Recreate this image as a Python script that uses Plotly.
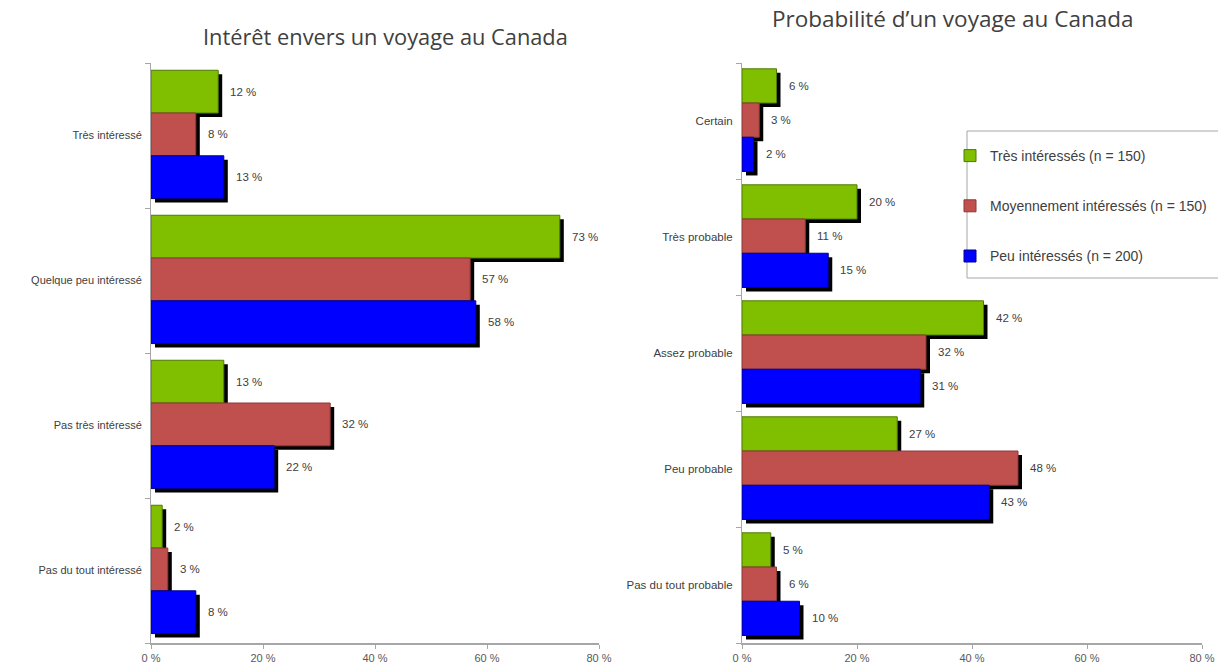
import plotly.graph_objects as go

# --- data ---------------------------------------------------------------
series_names = ["Très intéressés (n = 150)",
                "Moyennement intéressés (n = 150)",
                "Peu intéressés (n = 200)"]
series_colors = ["#7FBF00", "#C0504D", "#0000FF"]
series_edges = ["#4F7A00", "#8C3836", "#00008C"]

interest_categories = ["Très intéressé", "Quelque peu intéressé",
                       "Pas très intéressé", "Pas du tout intéressé"]
interest_tres = [12, 73, 13, 2]
interest_moyen = [8, 57, 32, 3]
interest_peu = [13, 58, 22, 8]

proba_categories = ["Certain", "Très probable", "Assez probable",
                    "Peu probable", "Pas du tout probable"]
proba_tres = [6, 20, 42, 27, 5]
proba_moyen = [3, 11, 32, 48, 6]
proba_peu = [2, 15, 31, 43, 10]

x_tickvals = [0, 20, 40, 60, 80]
x_ticktext = ["0 %", "20 %", "40 %", "60 %", "80 %"]

# --- layout geometry (pixels in a 1218x666 page) ----------------------------
W, H = 1218, 666
LEFT_X = (151, 599)
RIGHT_X = (742, 1202)
PLOT_Y = (63, 643)

BAR_W = 0.295           # bar thickness in category units
FIRST_OFF = -0.45       # offset of the first bar in each group
SHADOW_PX = 4           # drop-shadow offset in pixels

TEXT = "#404040"
AXIS = "#A6A6A6"
SANS = "Liberation Sans, Arial"


def px_to_paper_x(px):
    return px / W


def px_to_paper_y(py):
    return (H - py) / H


fig = go.Figure()
annotations = []


def add_panel(categories, values_list, xa, ya, x_px, show_legend, cat_size):
    n = len(categories)
    span_px = x_px[1] - x_px[0]
    dx = SHADOW_PX * 80 / span_px
    dy = SHADOW_PX * n / (PLOT_Y[1] - PLOT_Y[0])
    xref = "x" if xa == "xaxis" else "x" + xa[5:]
    yref = "y" if ya == "yaxis" else "y" + ya[5:]

    # shadows first so they sit behind the coloured bars
    for k, vals in enumerate(values_list):
        off = FIRST_OFF + k * BAR_W
        fig.add_trace(go.Bar(
            x=vals, y=[i + off + BAR_W / 2 + dy for i in range(n)],
            base=[dx] * n, width=BAR_W, orientation="h",
            marker=dict(color="#000000", line=dict(width=0)),
            showlegend=False, hoverinfo="skip",
            xaxis=xref, yaxis=yref))
    for k, vals in enumerate(values_list):
        off = FIRST_OFF + k * BAR_W
        ys = [i + off + BAR_W / 2 for i in range(n)]
        fig.add_trace(go.Bar(
            x=vals, y=ys, width=BAR_W, orientation="h",
            name=series_names[k], legendgroup=f"g{k}",
            marker=dict(color=series_colors[k],
                        line=dict(color=series_edges[k], width=1)),
            showlegend=show_legend,
            xaxis=xref, yaxis=yref))
        for v, yv in zip(vals, ys):
            annotations.append(dict(
                x=v, y=yv, xref=xref, yref=yref, text=f"{v} %",
                showarrow=False, xanchor="left", yanchor="middle",
                xshift=10, font=dict(family=SANS, size=11.5, color=TEXT)))

    fig.update_layout({
        xa: dict(domain=[px_to_paper_x(x_px[0]), px_to_paper_x(x_px[1])],
                 range=[0, 80], tickvals=x_tickvals, ticktext=x_ticktext,
                 showgrid=False, zeroline=False, showline=True,
                 linecolor=AXIS, linewidth=1.5, ticks="outside",
                 ticklen=4, tickcolor=AXIS, anchor=yref, automargin=False,
                 ticklabeloverflow="allow",
                 tickfont=dict(family=SANS, size=11, color="#595959")),
        ya: dict(domain=[px_to_paper_y(PLOT_Y[1]), px_to_paper_y(PLOT_Y[0])],
                 range=[n - 0.5, -0.5], tickvals=list(range(n)),
                 ticktext=categories, ticks="", showgrid=False,
                 zeroline=False, showline=True, linecolor=AXIS,
                 linewidth=1, anchor=xref, ticklabelstandoff=6,
                 automargin=False,
                 minor=dict(tickmode="array",
                            tickvals=[i - 0.5 for i in range(n + 1)],
                            ticks="outside", ticklen=5, tickcolor=AXIS,
                            showgrid=False),
                 tickfont=dict(family=SANS, size=cat_size, color=TEXT)),
    })


add_panel(interest_categories, [interest_tres, interest_moyen, interest_peu],
          "xaxis", "yaxis", LEFT_X, False, 11)
add_panel(proba_categories, [proba_tres, proba_moyen, proba_peu],
          "xaxis2", "yaxis2", RIGHT_X, True, 11.5)

# panel titles
annotations.append(dict(
    x=px_to_paper_x(385), y=px_to_paper_y(36), xref="paper", yref="paper",
    text="Intérêt envers un voyage au Canada", showarrow=False,
    xanchor="center", yanchor="middle",
    font=dict(family="Open Sans", size=21.8, color=TEXT)))
annotations.append(dict(
    x=px_to_paper_x(953), y=px_to_paper_y(19), xref="paper", yref="paper",
    text="Probabilité d’un voyage au Canada", showarrow=False,
    xanchor="center", yanchor="middle",
    font=dict(family="Open Sans", size=22.5, color=TEXT)))

# legend frame (the legend itself is drawn borderless inside it)
shapes = [dict(type="rect", xref="paper", yref="paper",
               x0=px_to_paper_x(967), x1=px_to_paper_x(1230),
               y0=px_to_paper_y(278), y1=px_to_paper_y(131),
               line=dict(color="#A6A6A6", width=1), fillcolor="white",
               layer="below")]

fig.update_layout(
    width=W, height=H,
    margin=dict(l=0, r=0, t=0, b=0),
    paper_bgcolor="white", plot_bgcolor="rgba(0,0,0,0)",
    barmode="overlay",
    annotations=annotations,
    shapes=shapes,
    showlegend=True,
    legend=dict(x=px_to_paper_x(950), y=px_to_paper_y(140),
                xanchor="left", yanchor="top",
                borderwidth=0, bgcolor="rgba(0,0,0,0)",
                traceorder="grouped",
                tracegroupgap=29, itemwidth=30,
                font=dict(family=SANS, size=14, color=TEXT)),
)

fig.write_html("out.html")
